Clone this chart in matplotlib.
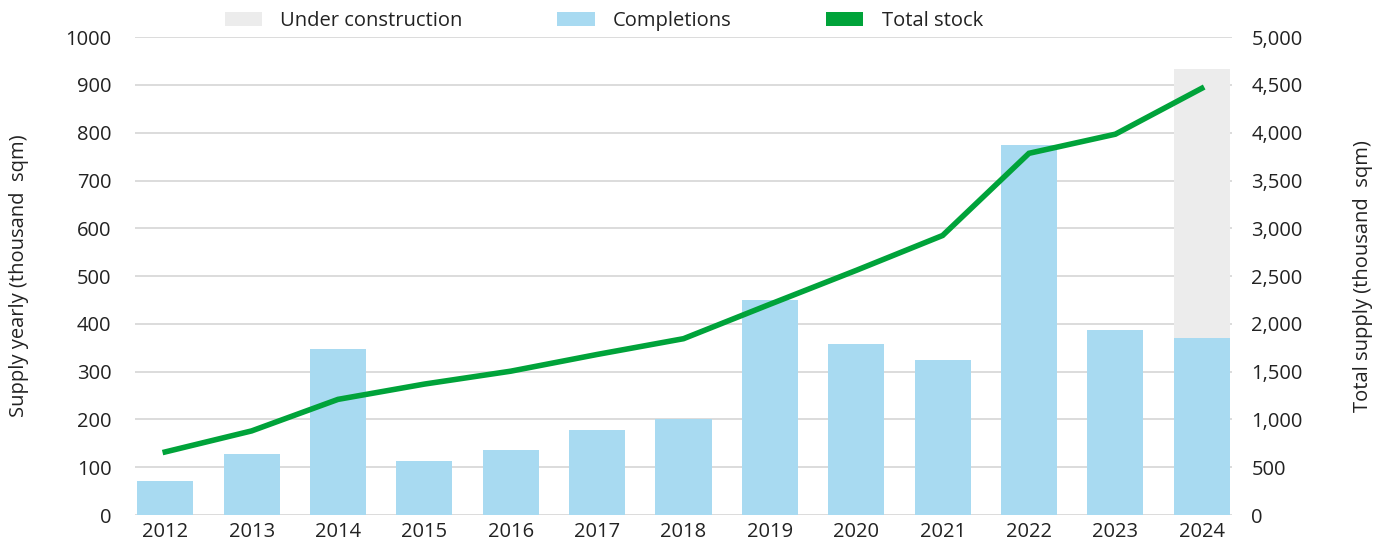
import matplotlib
matplotlib.use("Agg")
import matplotlib.pyplot as plt
import numpy as np
from matplotlib.patches import Patch
from matplotlib.ticker import FuncFormatter

plt.rcParams["font.family"] = ["Open Sans", "DejaVu Sans"]

years = ["2012", "2013", "2014", "2015", "2016", "2017", "2018",
         "2019", "2020", "2021", "2022", "2023", "2024"]
completions = [72, 128, 348, 112, 137, 177, 200, 450, 357, 325, 774, 388, 371]
under_construction = [0, 0, 0, 0, 0, 0, 0, 0, 0, 0, 0, 0, 562]
total_stock = [660, 880, 1210, 1370, 1505, 1680, 1845, 2205, 2560, 2925, 3785, 3985, 4465]

BLUE = "#A8DAF1"
GREY = "#ECECEC"
GREEN = "#00A33A"
GRID = "#D9D9D9"
TEXT = "#222222"
FS = 14.5

fig = plt.figure(figsize=(13.85, 5.47), dpi=100)
ax = fig.add_axes([0.0975, 0.0585, 0.792, 0.8735])
ax2 = ax.twinx()

x = np.arange(len(years))
ax.bar(x, completions, width=0.65, color=BLUE, zorder=2)
ax.bar(x, under_construction, width=0.65, bottom=completions, color=GREY, zorder=2)
ax2.plot(x, total_stock, color=GREEN, lw=4, solid_joinstyle="miter", zorder=3)

ax.set_xlim(-0.35, len(years) - 0.65)
ax.set_ylim(0, 1000)
ax2.set_ylim(0, 5000)
ax.set_yticks(np.arange(0, 1001, 100))
ax2.set_yticks(np.arange(0, 5001, 500))
ax2.yaxis.set_major_formatter(FuncFormatter(lambda v, _: f"{int(v):,}"))

ax.set_xticks(x)
ax.set_xticklabels(years)
ax.grid(axis="y", color=GRID, lw=1.3, zorder=0)
ax.set_axisbelow(True)

for a in (ax, ax2):
    for s in a.spines.values():
        s.set_visible(False)
    a.tick_params(length=0, labelsize=FS, colors=TEXT)
ax.tick_params(axis="y", pad=17)
ax2.tick_params(axis="y", pad=14)
ax.tick_params(axis="x", pad=5)

ax.set_ylabel("Supply yearly (thousand  sqm)", fontsize=FS, color=TEXT, labelpad=26)
ax2.set_ylabel("Total supply (thousand  sqm)", fontsize=FS, color=TEXT, labelpad=36)

handles = [Patch(facecolor=GREY, edgecolor="none"),
           Patch(facecolor=BLUE, edgecolor="none"),
           Patch(facecolor=GREEN, edgecolor="none")]
labels = ["Under construction", "Completions", "Total stock"]
fig.legend(handles, labels, loc="center", bbox_to_anchor=(0.436, 0.962), ncol=3,
           frameon=False, fontsize=FS, handlelength=1.85, handleheight=0.7,
           columnspacing=4.7, handletextpad=0.9, labelcolor=TEXT)

fig.savefig("out.png", dpi=100)
